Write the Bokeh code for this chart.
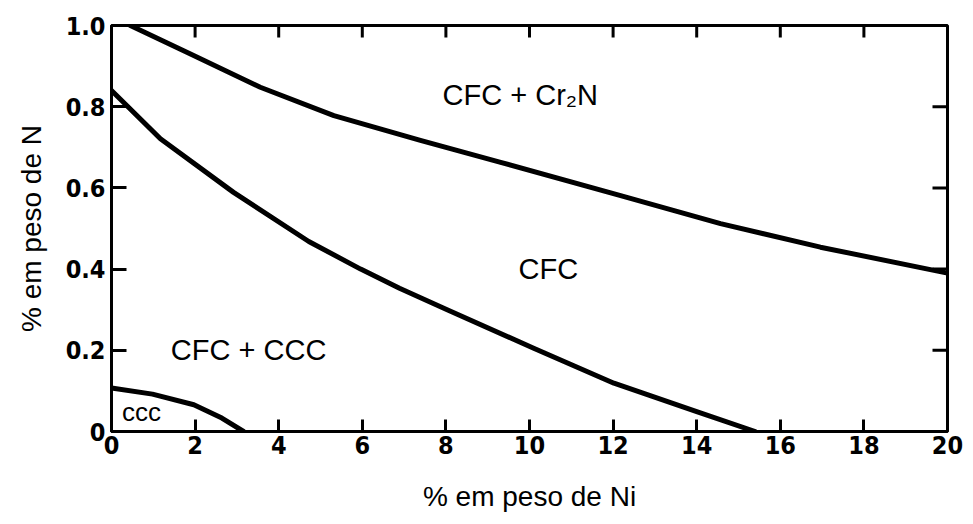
from bokeh.plotting import figure
from bokeh.models import FixedTicker, Range1d, ColumnDataSource
from bokeh.core.properties import value
from bokeh.embed import file_html
from bokeh.resources import INLINE

# Phase boundaries (wt% Ni vs wt% N)
upper_ni = [0.45, 1.89, 3.56, 5.32, 7.39, 9.31, 12.18, 14.57, 16.96, 20]
upper_n = [1.0, 0.93, 0.848, 0.778, 0.717, 0.663, 0.581, 0.512, 0.454, 0.39]

middle_ni = [0, 1.17, 2.92, 4.72, 5.96, 6.89, 8.03, 10.1, 12.02, 14.0, 15.4]
middle_n = [0.84, 0.721, 0.589, 0.468, 0.40, 0.353, 0.30, 0.205, 0.119, 0.049, 0.0]

lower_ni = [0, 0.98, 1.97, 2.64, 3.16]
lower_n = [0.107, 0.092, 0.066, 0.033, 0.0]

x_ticks = [0, 2, 4, 6, 8, 10, 12, 14, 16, 18, 20]
y_ticks = [0, 0.2, 0.4, 0.6, 0.8, 1.0]
y_tick_labels = {0: "0", 0.2: "0.2", 0.4: "0.4", 0.6: "0.6", 0.8: "0.8", 1.0: "1.0"}

region_text = ["CFC + Cr₂N", "CFC", "CFC + CCC"]
region_ni = [9.78, 10.45, 3.28]
region_n = [0.828, 0.40, 0.20]

small_text = ["ccc"]
small_ni = [0.72]
small_n = [0.047]

X0, X1, Y0, Y1 = 0, 20, 0, 1.0

p = figure(width=973, height=524, output_backend="svg", toolbar_location=None,
           x_range=Range1d(X0, X1), y_range=Range1d(Y0, Y1),
           min_border_left=111, min_border_right=26, min_border_top=25, min_border_bottom=93,
           x_axis_label="% em peso de Ni", y_axis_label="% em peso de N")
p.grid.visible = False
p.outline_line_color = "black"
p.outline_line_width = 3
p.background_fill_color = "white"
p.border_fill_color = "white"

tick_font = "DejaVu Sans Condensed"
for ax in p.xaxis:
    ax.ticker = FixedTicker(ticks=x_ticks)
    ax.major_tick_in = 12
for ax in p.yaxis:
    ax.ticker = FixedTicker(ticks=y_ticks)
    ax.major_label_overrides = y_tick_labels
    ax.major_tick_in = 15
for ax in list(p.xaxis) + list(p.yaxis):
    ax.axis_line_width = 3
    ax.major_tick_out = 0
    ax.major_tick_line_width = 3
    ax.minor_tick_line_color = None
    ax.major_label_text_font = tick_font
    ax.major_label_text_font_style = "bold"
    ax.major_label_text_font_size = "25px"
    ax.major_label_text_color = "black"
    ax.axis_label_text_font = "Liberation Sans"
    ax.axis_label_text_font_style = "normal"
    ax.axis_label_text_font_size = "28px"
    ax.axis_label_text_color = "black"
p.xaxis.major_label_standoff = 4
p.xaxis.axis_label_standoff = 24
p.yaxis.major_label_standoff = 6
p.yaxis.axis_label_standoff = 16

# mirrored inward ticks on the top and right edges
top_len = 12 / 406 * (Y1 - Y0)
right_len = 15 / 836 * (X1 - X0)
p.segment(x0=x_ticks, y0=[Y1] * len(x_ticks), x1=x_ticks, y1=[Y1 - top_len] * len(x_ticks),
          line_width=3, color="black")
p.segment(x0=[X1] * len(y_ticks), y0=y_ticks, x1=[X1 - right_len] * len(y_ticks), y1=y_ticks,
          line_width=3, color="black")

for xs, ys in [(upper_ni, upper_n), (middle_ni, middle_n), (lower_ni, lower_n)]:
    p.line(xs, ys, line_width=5, color="black", line_join="round", line_cap="round")

src = ColumnDataSource(dict(x=region_ni, y=region_n, t=region_text))
p.text("x", "y", text="t", source=src, text_font=value("Liberation Sans"),
       text_font_size="29px", text_align="center", text_baseline="middle", color="black")
src2 = ColumnDataSource(dict(x=small_ni, y=small_n, t=small_text))
p.text("x", "y", text="t", source=src2, text_font=value("Liberation Sans"),
       text_font_size="26px", text_align="center", text_baseline="middle", color="black")

open("out.html", "w").write(file_html(p, INLINE))
